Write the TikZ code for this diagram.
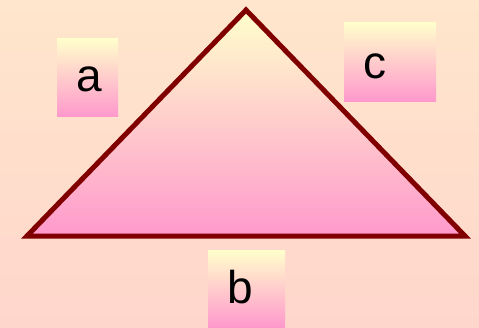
\documentclass[tikz,border=0pt]{standalone}
\usepackage{fontspec}
\setmainfont{Liberation Sans}
\usetikzlibrary{positioning}
\definecolor{peachtop}{RGB}{255,230,204}
\definecolor{peachbot}{RGB}{255,214,204}
\definecolor{paleyellow}{RGB}{255,255,204}
\definecolor{candypink}{RGB}{255,153,204}
\definecolor{maroonline}{RGB}{128,0,0}
\tikzset{
  side/.style={rectangle,top color=paleyellow,bottom color=candypink,inner sep=0pt},
  letter/.style={inner sep=0pt,font=\fontsize{46}{50}\selectfont},
  edge/.style={line width=5pt,draw=maroonline,line join=miter}
}
\begin{document}
\begin{tikzpicture}[x=1pt,y=-1pt]
  % background
  \shade[top color=peachtop,bottom color=peachbot] (0,0) rectangle (479,327);
  \useasboundingbox (0,0) rectangle (479,327);

  % corners
  \coordinate (apex) at (246,10);
  \coordinate (left) at (27,236);
  \coordinate (right) at (465,236);

  % triangle
  \shadedraw[edge,top color=paleyellow,bottom color=candypink] (apex) -- (left) -- (right) -- cycle;

  % side labels
  \node[side,minimum width=61pt,minimum height=78pt] (sidea) at (87.5,77) {};
  \node[side,minimum width=77pt,minimum height=77pt] (sideb) at (246.5,288.5) {};
  \node[side,minimum width=92pt,minimum height=79pt] (sidec) at (390,61.5) {};
  \node[letter] (texta) at ([shift={(2,2)}]sidea.center) {a};
  \node[letter] (textb) at ([shift={(-6,-1.5)}]sideb.center) {b};
  \node[letter] (textc) at ([shift={(-15,5)}]sidec.center) {c};
\end{tikzpicture}
\end{document}
